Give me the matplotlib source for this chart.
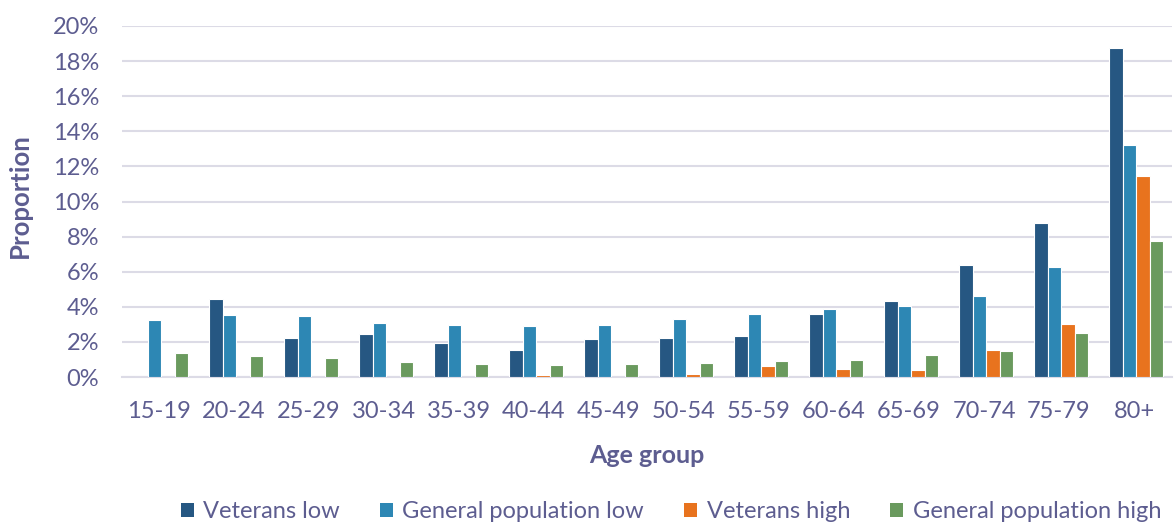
import matplotlib
matplotlib.use("Agg")
import matplotlib.pyplot as plt
import numpy as np
from matplotlib.ticker import PercentFormatter
from matplotlib.patches import Patch

plt.rcParams['font.family'] = ['Lato', 'DejaVu Sans']

age_groups = ["15-19", "20-24", "25-29", "30-34", "35-39", "40-44", "45-49",
              "50-54", "55-59", "60-64", "65-69", "70-74", "75-79", "80+"]
veterans_low = [0.0, 4.43, 2.20, 2.45, 1.96, 1.56, 2.15, 2.24, 2.32, 3.57, 4.31, 6.36, 8.76, 18.73]
general_low = [3.27, 3.56, 3.46, 3.10, 2.99, 2.93, 2.99, 3.33, 3.61, 3.87, 4.05, 4.64, 6.29, 13.20]
veterans_high = [0.0, 0.0, 0.0, 0.0, 0.0, 0.14, 0.0, 0.15, 0.61, 0.44, 0.42, 1.52, 3.00, 11.45]
general_high = [1.39, 1.20, 1.08, 0.85, 0.72, 0.68, 0.74, 0.80, 0.93, 0.99, 1.24, 1.48, 2.49, 7.77]

series = {
    "Veterans low": veterans_low,
    "General population low": general_low,
    "Veterans high": veterans_high,
    "General population high": general_high,
}
colors = ["#265782", "#2d87b4", "#e8731e", "#6a9a5e"]
text_color = "#5d5d90"
grid_color = "#dcdbe6"

fig = plt.figure(figsize=(11.74, 5.25), dpi=100)
ax = fig.add_axes([121.5 / 1174, 148 / 525, 1050 / 1174, 351 / 525])

x = np.arange(len(age_groups))
step = 0.181
for i, (name, vals) in enumerate(series.items()):
    ax.bar(x + (i - 1.5) * step + 0.03, np.array(vals) / 100, width=step,
           color=colors[i], edgecolor="white", linewidth=0.8, zorder=3)

ax.set_xlim(-0.5, len(age_groups) - 0.5)
ax.set_ylim(0, 0.2)
ax.set_yticks(np.arange(0, 0.2001, 0.02))
ax.yaxis.set_major_formatter(PercentFormatter(1.0, decimals=0))
ax.set_xticks(x)
ax.set_xticklabels(age_groups)
ax.grid(axis="y", color=grid_color, linewidth=1.5, zorder=0)
for s in ["top", "right", "left"]:
    ax.spines[s].set_visible(False)
ax.spines["bottom"].set_color(grid_color)
ax.spines["bottom"].set_linewidth(1.5)
ax.tick_params(axis="both", length=0, labelsize=17, colors=text_color)
ax.tick_params(axis="x", pad=17)
ax.tick_params(axis="y", pad=16)

ax.set_xlabel("Age group", fontsize=18, fontweight="bold", color=text_color, labelpad=16)
fig.text(20 / 1174, 1 - 196 / 525, "Proportion", rotation=90, fontsize=18.5,
         fontweight="bold", color=text_color, ha="center", va="center")

handles = [Patch(facecolor=c, label=n) for c, n in zip(colors, series.keys())]
fig.legend(handles=handles, loc="center", bbox_to_anchor=(671 / 1174, 1 - 512 / 525),
           ncol=4, frameon=False, fontsize=17, handlelength=0.55, handleheight=0.55,
           handletextpad=0.4, columnspacing=1.7, labelcolor=text_color)

fig.savefig("out.png", dpi=100)
